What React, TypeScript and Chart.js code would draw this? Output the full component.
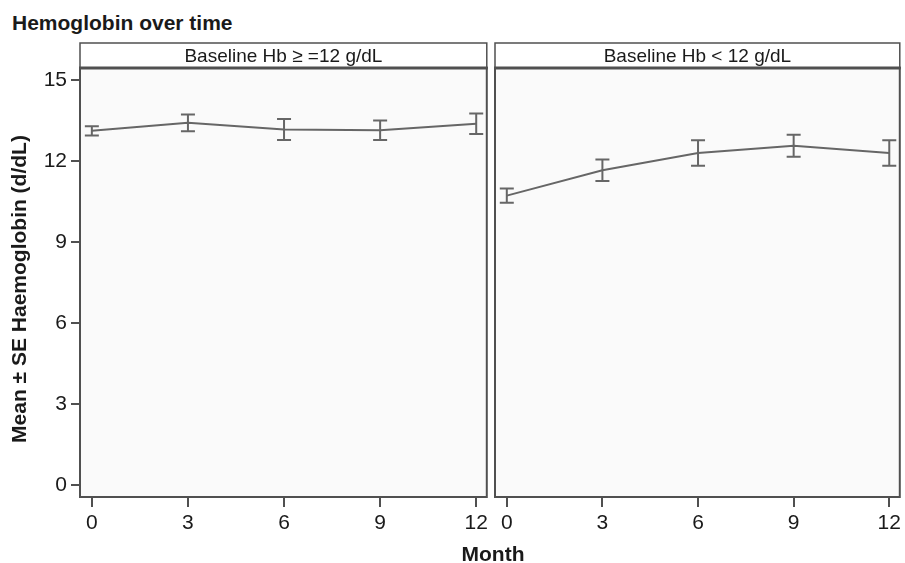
import React, { useEffect, useRef } from "react";
import { Chart, registerables } from "chart.js";

Chart.register(...registerables);

// ---- data ----
const months = [0, 3, 6, 9, 12];
const yTicks = [0, 3, 6, 9, 12, 15];
const highMean = [13.13, 13.43, 13.18, 13.15, 13.39];
const highSE = [0.17, 0.31, 0.39, 0.36, 0.38];
const lowMean = [10.73, 11.67, 12.31, 12.58, 12.31];
const lowSE = [0.26, 0.4, 0.47, 0.41, 0.47];
const panelTitles = ["Baseline Hb \u2265 =12 g/dL", "Baseline Hb < 12 g/dL"];
const chartTitle = "Hemoglobin over time";
const yTitle = "Mean \u00b1 SE Haemoglobin (d/dL)";
const xTitle = "Month";

const FONT = "'Liberation Sans', Arial, Helvetica, sans-serif";
const LINE = "#666666";
const FRAME = "#505050";
const TEXT = "#1a1a1a";

function buildChart(
  canvas: HTMLCanvasElement,
  mean: number[],
  se: number[],
  title: string,
  showY: boolean,
  padLeft: number,
  padRight: number
) {
  const stripPlugin = {
    id: "strip",
    beforeDraw(chart: any) {
      const { ctx, chartArea } = chart;
      ctx.save();
      ctx.fillStyle = "#fafafa";
      ctx.fillRect(chartArea.left, chartArea.top, chartArea.right - chartArea.left, chartArea.bottom - chartArea.top);
      ctx.restore();
    },
    afterDatasetsDraw(chart: any) {
      const { ctx, scales } = chart;
      const xs = scales.x;
      const ys = scales.y;
      ctx.save();
      ctx.strokeStyle = LINE;
      ctx.lineWidth = 2;
      const cap = 7;
      mean.forEach((m, i) => {
        const px = xs.getPixelForValue(months[i]);
        const hi = ys.getPixelForValue(m + se[i]);
        const lo = ys.getPixelForValue(m - se[i]);
        ctx.beginPath();
        ctx.moveTo(px, hi);
        ctx.lineTo(px, lo);
        ctx.moveTo(px - cap, hi);
        ctx.lineTo(px + cap, hi);
        ctx.moveTo(px - cap, lo);
        ctx.lineTo(px + cap, lo);
        ctx.stroke();
      });
      ctx.restore();
    },
    afterDraw(chart: any) {
      const { ctx, chartArea } = chart;
      const { left, right, top, bottom } = chartArea;
      const h = 25;
      ctx.save();
      // frame
      ctx.strokeStyle = FRAME;
      ctx.lineWidth = 2;
      ctx.strokeRect(left, top, right - left, bottom - top);
      // strip
      ctx.fillStyle = "#ffffff";
      ctx.fillRect(left, top - h, right - left, h);
      ctx.lineWidth = 1.5;
      ctx.strokeRect(left, top - h, right - left, h);
      ctx.lineWidth = 3;
      ctx.beginPath();
      ctx.moveTo(left - 1, top);
      ctx.lineTo(right + 1, top);
      ctx.stroke();
      ctx.fillStyle = TEXT;
      ctx.font = `19px ${FONT}`;
      ctx.textAlign = "center";
      ctx.textBaseline = "middle";
      ctx.fillText(title, (left + right) / 2, top - h / 2 + 1);
      ctx.restore();
    },
  };

  return new Chart(canvas, {
    type: "line",
    data: {
      datasets: [
        {
          data: months.map((m, i) => ({ x: m, y: mean[i] })),
          borderColor: LINE,
          borderWidth: 2,
          pointRadius: 0,
          tension: 0,
          fill: false,
        },
      ],
    },
    options: {
      animation: false,
      responsive: false,
      maintainAspectRatio: false,
      devicePixelRatio: 1,
      layout: { padding: { top: 68, left: padLeft, right: padRight, bottom: 0 } },
      plugins: {
        legend: { display: false },
        title: { display: false },
        tooltip: { enabled: false },
      },
      scales: {
        x: {
          type: "linear",
          min: -0.37,
          max: 12.33,
          afterBuildTicks: (s: any) => {
            s.ticks = months.map((v) => ({ value: v }));
          },
          afterFit: (s: any) => {
            s.height = 66;
          },
          grid: {
            display: true,
            drawOnChartArea: false,
            drawTicks: true,
            tickLength: 10,
            color: FRAME,
            lineWidth: 2,
          },
          border: { display: false },
          ticks: {
            color: TEXT,
            font: { family: FONT, size: 21 },
            padding: 4,
            maxRotation: 0,
            callback: (v: any) => String(v),
          },
        },
        y: {
          type: "linear",
          display: showY,
          min: -0.44,
          max: 15.46,
          afterBuildTicks: (s: any) => {
            s.ticks = yTicks.map((v) => ({ value: v }));
          },
          afterFit: (s: any) => {
            s.width = showY ? 80 : 0;
          },
          grid: {
            display: true,
            drawOnChartArea: false,
            drawTicks: true,
            tickLength: 9,
            color: FRAME,
            lineWidth: 2,
          },
          border: { display: false },
          ticks: {
            color: TEXT,
            font: { family: FONT, size: 21 },
            padding: 4,
            callback: (v: any) => String(v),
          },
        },
      },
    },
    plugins: [stripPlugin],
  } as any);
}

export default function App() {
  const leftRef = useRef<HTMLCanvasElement>(null);
  const rightRef = useRef<HTMLCanvasElement>(null);

  useEffect(() => {
    const a = buildChart(leftRef.current!, highMean, highSE, panelTitles[0], true, 0, 4);
    const b = buildChart(rightRef.current!, lowMean, lowSE, panelTitles[1], false, 3, 2);
    return () => {
      a.destroy();
      b.destroy();
    };
  }, []);

  return (
    <div
      style={{
        position: "fixed",
        left: 0,
        top: 0,
        width: 905,
        height: 563,
        background: "#ffffff",
        overflow: "hidden",
        fontFamily: FONT,
        color: TEXT,
      }}
    >
      <div
        style={{
          position: "absolute",
          left: 12,
          top: 11,
          fontSize: 21,
          lineHeight: "24px",
          fontWeight: "bold",
          whiteSpace: "nowrap",
        }}
      >
        {chartTitle}
      </div>
      <canvas
        ref={leftRef}
        width={492}
        height={563}
        style={{ position: "absolute", left: 0, top: 0, width: 492, height: 563 }}
      />
      <canvas
        ref={rightRef}
        width={413}
        height={563}
        style={{ position: "absolute", left: 492, top: 0, width: 413, height: 563 }}
      />
      <div
        style={{
          position: "absolute",
          left: 19 - 220,
          top: 289 - 12,
          width: 440,
          height: 24,
          lineHeight: "24px",
          textAlign: "center",
          fontSize: 21,
          fontWeight: "bold",
          whiteSpace: "nowrap",
          transform: "rotate(-90deg)",
          transformOrigin: "50% 50%",
        }}
      >
        {yTitle}
      </div>
      <div
        style={{
          position: "absolute",
          left: 493 - 100,
          top: 542,
          width: 200,
          textAlign: "center",
          fontSize: 21,
          lineHeight: "24px",
          fontWeight: "bold",
          whiteSpace: "nowrap",
        }}
      >
        {xTitle}
      </div>
    </div>
  );
}
